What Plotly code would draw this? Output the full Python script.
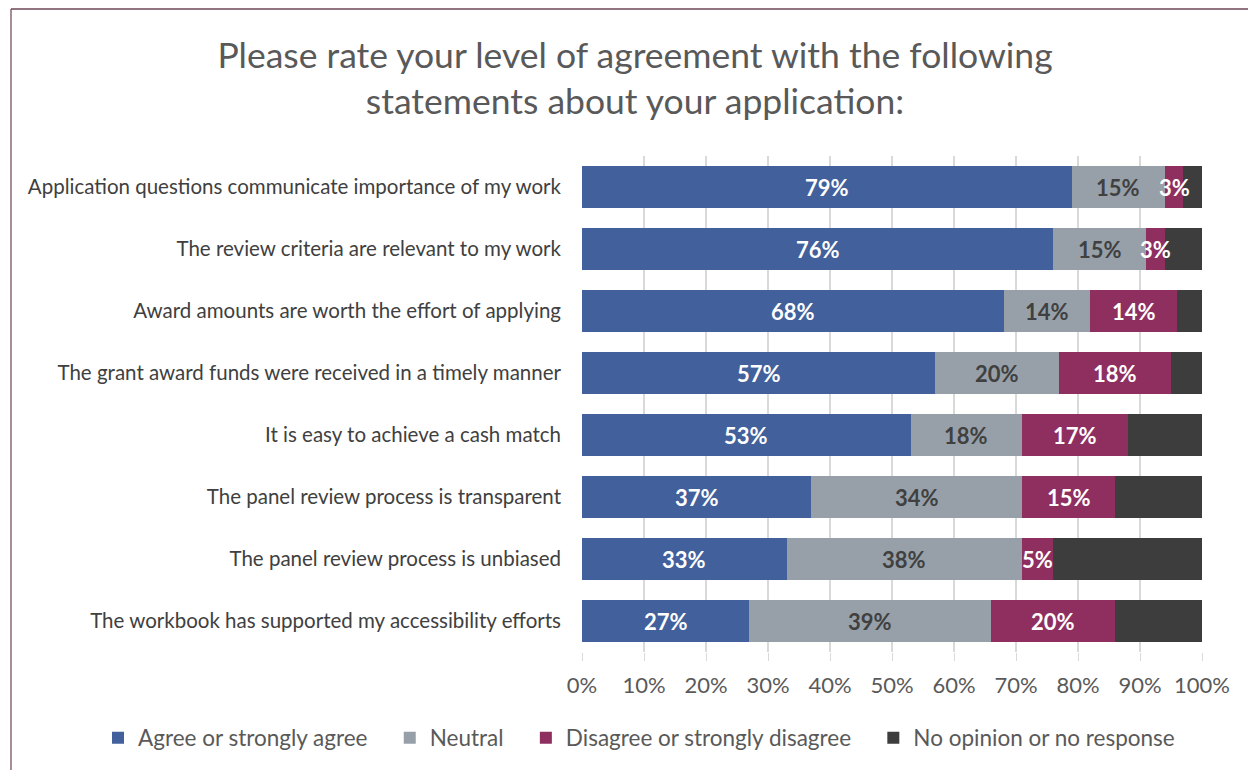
import plotly.graph_objects as go

# Survey statements, top to bottom
statements = [
    "Application questions communicate importance of my work",
    "The review criteria are relevant to my work",
    "Award amounts are worth the effort of applying",
    "The grant award funds were received in a timely manner",
    "It is easy to achieve a cash match",
    "The panel review process is transparent",
    "The panel review process is unbiased",
    "The workbook has supported my accessibility efforts",
]

# Share of respondents (%) per response group
agree = [79, 76, 68, 57, 53, 37, 33, 27]
neutral = [15, 15, 14, 20, 18, 34, 38, 39]
disagree = [3, 3, 14, 18, 17, 15, 5, 20]
no_opinion = [3, 6, 4, 5, 12, 14, 24, 14]

series_names = [
    "Agree or strongly agree",
    "Neutral",
    "Disagree or strongly disagree",
    "No opinion or no response",
]
x_ticks = [0, 10, 20, 30, 40, 50, 60, 70, 80, 90, 100]

colors = ["#41609c", "#97a0a9", "#8f2f60", "#3d3d3d"]
label_colors = ["#ffffff", "#404040", "#ffffff", None]

FONT = "Lato, 'Source Sans Pro', sans-serif"
PAD = "\u00a0\u00a0\u00a0"  # extra room between legend entries

series_vals = [agree, neutral, disagree, no_opinion]

fig = go.Figure()
for name, vals, col in zip(series_names, series_vals, colors):
    fig.add_trace(go.Bar(
        y=statements,
        x=vals,
        name=name + PAD,
        orientation="h",
        marker=dict(color=col, line=dict(width=0)),
        hoverinfo="skip",
    ))

# value labels centred on each segment, drawn above all bars so narrow
# segments can let their label spill over the neighbours
base = [0] * len(statements)
for vals, lcol in zip(series_vals, label_colors):
    if lcol:
        for stmt, b, v in zip(statements, base, vals):
            fig.add_annotation(
                x=b + v / 2,
                y=stmt,
                xref="x",
                yref="y",
                text=f"<b>{v}%</b>",
                showarrow=False,
                xanchor="center",
                yanchor="middle",
                font=dict(family=FONT, size=22, color=lcol),
            )
    base = [b + v for b, v in zip(base, vals)]

# plot area in pixels: x 582..1202, y 156..652
def px_x(p):
    return (p - 582) / 620

def px_y(p):
    return (652 - p) / 496

fig.update_layout(
    width=1248,
    height=770,
    barmode="stack",
    bargap=0.32,
    plot_bgcolor="#ffffff",
    paper_bgcolor="#ffffff",
    margin=dict(l=582, r=46, t=156, b=118, autoexpand=False),
    font=dict(family=FONT, color="#595959"),
    title=dict(
        text="Please rate your level of agreement with the following<br>statements about your application:",
        x=635 / 1248,
        xanchor="center",
        xref="container",
        y=1 - 68 / 770,
        yanchor="middle",
        yref="container",
        font=dict(family=FONT, size=35.5, color="#595959"),
    ),
    xaxis=dict(
        range=[0, 100],
        tickvals=x_ticks,
        ticktext=[f"{t}%" for t in x_ticks],
        showgrid=True,
        gridcolor="#d9d9d9",
        gridwidth=2,
        zeroline=False,
        ticks="outside",
        ticklen=8,
        tickwidth=1,
        tickcolor="#d9d9d9",
        ticklabelstandoff=6,
        tickfont=dict(family=FONT, size=22, color="#595959"),
        showline=False,
        fixedrange=True,
    ),
    yaxis=dict(
        categoryorder="array",
        categoryarray=statements,
        autorange="reversed",
        showgrid=False,
        ticks="",
        ticklabelstandoff=20,
        tickfont=dict(family=FONT, size=20.5, color="#404040"),
        fixedrange=True,
    ),
    legend=dict(
        orientation="h",
        xref="paper",
        yref="paper",
        x=px_x(98),
        xanchor="left",
        y=px_y(738),
        yanchor="middle",
        font=dict(family=FONT, size=22.5, color="#595959"),
        traceorder="normal",
        itemwidth=30,
    ),
    showlegend=True,
)

# chart frame: left and top edges
fig.add_shape(type="line", xref="paper", yref="paper",
              x0=px_x(11), x1=px_x(11), y0=px_y(9), y1=px_y(775),
              line=dict(color="#a88c98", width=2))
fig.add_shape(type="line", xref="paper", yref="paper",
              x0=px_x(11), x1=px_x(1260), y0=px_y(9), y1=px_y(9),
              line=dict(color="#6e4656", width=1.5))

fig.write_html("out.html")
